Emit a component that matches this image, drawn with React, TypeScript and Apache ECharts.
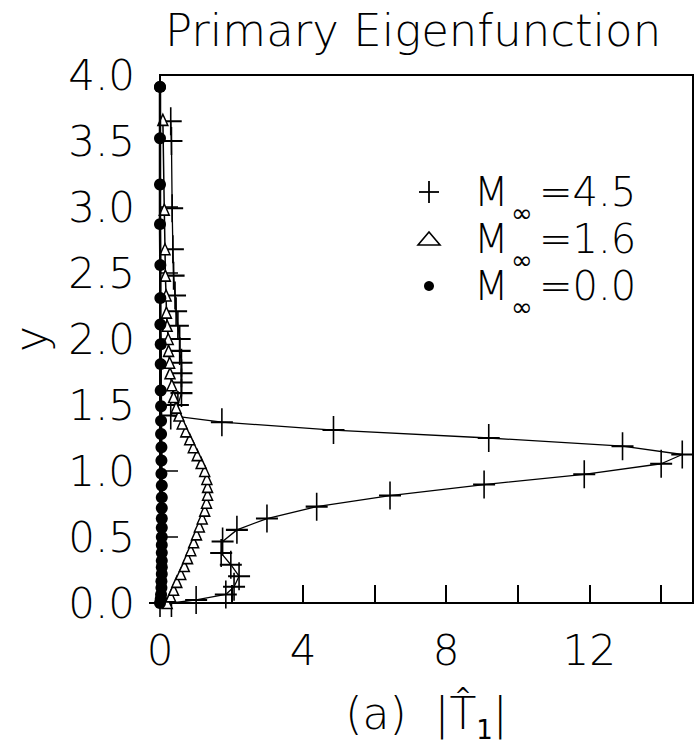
import React, { useEffect, useRef } from "react";
import * as echarts from "echarts";

// ---- data ----
// M∞ = 4.5  ("+" markers), points in order along the curve [|T1|, y]
const m45X = [0, 0.32, 1.01, 1.84, 2.07, 2.21, 1.98, 1.71, 1.75, 2.15, 2.99, 4.38, 6.43, 9.06, 11.86, 14.01, 14.6, 12.93, 9.19, 4.85, 1.73, 0.3, 0.5, 0.6, 0.6, 0.6, 0.6, 0.55, 0.55, 0.5, 0.45, 0.42, 0.38, 0.36, 0.34, 0.32, 0.3];
const m45Y = [0, 0.0, 0.023, 0.065, 0.123, 0.203, 0.29, 0.378, 0.466, 0.554, 0.64, 0.73, 0.814, 0.897, 0.975, 1.055, 1.125, 1.188, 1.25, 1.31, 1.37, 1.42, 1.5, 1.59, 1.67, 1.74, 1.82, 1.91, 2.0, 2.1, 2.21, 2.33, 2.48, 2.68, 2.99, 3.5, 3.65];

// M∞ = 1.6  (open triangles)
const m16X = [0.2, 0.3, 0.38, 0.47, 0.58, 0.68, 0.77, 0.86, 0.94, 1.02, 1.1, 1.18, 1.25, 1.3, 1.33, 1.33, 1.31, 1.25, 1.15, 1.04, 0.93, 0.83, 0.72, 0.62, 0.53, 0.45, 0.38, 0.33, 0.28, 0.27, 0.24, 0.23, 0.2, 0.18, 0.17, 0.15, 0.14, 0.12, 0.08];
const m16Y = [0.0, 0.05, 0.1, 0.16, 0.22, 0.28, 0.34, 0.4, 0.46, 0.52, 0.58, 0.64, 0.7, 0.76, 0.82, 0.88, 0.94, 1.0, 1.06, 1.12, 1.18, 1.24, 1.3, 1.36, 1.42, 1.48, 1.56, 1.65, 1.74, 1.82, 1.91, 2.0, 2.1, 2.2, 2.33, 2.48, 2.68, 2.98, 3.66];

// M∞ = 0.0  (filled dots)
const m00X = [0, 0.02, 0.03, 0.04, 0.04, 0.05, 0.05, 0.05, 0.05, 0.05, 0.05, 0.05, 0.05, 0.05, 0.05, 0.05, 0.04, 0.04, 0.04, 0.03, 0.03, 0.03, 0.02, 0.02, 0.02, 0.01, 0.01, 0.01, 0.0, 0.0, 0.0, 0.0, 0.0];
const m00Y = [0.0, 0.03, 0.065, 0.115, 0.165, 0.22, 0.27, 0.32, 0.38, 0.44, 0.5, 0.57, 0.64, 0.72, 0.8, 0.89, 0.98, 1.08, 1.18, 1.28, 1.38, 1.49, 1.61, 1.81, 1.96, 2.11, 2.31, 2.56, 2.87, 3.17, 3.52, 3.91, 3.91];

const seriesNames = ["M∞=4.5", "M∞=1.6", "M∞=0.0"];
const legendValues = ["4.5", "1.6", "0.0"];
const xTickLabels = ["0", "4", "8", "12"];
const titleText = "Primary Eigenfunction";

const FONT = "'DejaVu Sans', sans-serif";
const PLUS = "path://M0,14L22,14M11,0L11,28";

function pairs(xs: number[], ys: number[]) {
  return xs.map((x, i) => [x, ys[i]]);
}

export default function App() {
  const ref = useRef<HTMLDivElement>(null);
  useEffect(() => {
    if (!ref.current) return;
    const chart = echarts.init(ref.current, undefined, { renderer: "svg" });
    const rowY = [192, 239, 286];
    const legendGraphics: any[] = [];
    rowY.forEach((cy, i) => {
      if (i === 0) {
        legendGraphics.push({ type: "line", shape: { x1: 419, y1: cy, x2: 439, y2: cy }, style: { stroke: "#000", lineWidth: 1.8 } });
        legendGraphics.push({ type: "line", shape: { x1: 429, y1: cy - 11, x2: 429, y2: cy + 11 }, style: { stroke: "#000", lineWidth: 1.8 } });
      } else if (i === 1) {
        legendGraphics.push({ type: "polygon", shape: { points: [[418, cy + 6], [440, cy + 6], [429, cy - 7]] }, style: { fill: "#fff", stroke: "#000", lineWidth: 1.6 } });
      } else {
        legendGraphics.push({ type: "circle", shape: { cx: 429, cy, r: 5 }, style: { fill: "#000" } });
      }
      legendGraphics.push({ type: "text", x: 474, y: cy, style: { text: "M", font: `200 40px ${FONT}`, fill: "#000", verticalAlign: "middle", align: "left" } });
      legendGraphics.push({ type: "text", x: 511, y: cy + 21, style: { text: "∞", font: `normal 26px ${FONT}`, fill: "#000", verticalAlign: "middle", align: "left" } });
      legendGraphics.push({ type: "text", x: 539, y: cy, style: { text: "=" + legendValues[i], font: `200 40px ${FONT}`, fill: "#000", verticalAlign: "middle", align: "left" } });
    });

    chart.setOption({
      animation: false,
      backgroundColor: "#fff",
      title: {
        text: titleText,
        left: 160,
        top: 3,
        textStyle: { fontFamily: FONT, fontSize: 45, fontWeight: 200, color: "#000" },
      },
      grid: { left: 155, right: 3, top: 75, bottom: 141, show: true, borderColor: "#000", borderWidth: 2, backgroundColor: "transparent" },
      xAxis: {
        type: "value",
        min: 0,
        max: 14.9,
        interval: 2,
        name: "{a|(a)  |T̂}{sub|1}{a||}",
        nameLocation: "middle",
        nameGap: 80,
        nameTextStyle: {
          color: "#000",
          rich: {
            a: { fontFamily: FONT, fontSize: 44, fontWeight: 200, color: "#000" },
            sub: { fontFamily: FONT, fontSize: 26, fontWeight: "normal", color: "#000", padding: [34, 0, 0, 0] },
          },
        },
        axisLine: { show: true, lineStyle: { color: "#000", width: 2 } },
        axisTick: { show: true, inside: true, length: 18, lineStyle: { color: "#000", width: 2 } },
        splitLine: { show: false },
        axisLabel: {
          margin: 26,
          showMaxLabel: false,
          fontFamily: FONT,
          fontSize: 42,
          fontWeight: 200,
          color: "#000",
          formatter: (v: number) => (xTickLabels.indexOf(String(v)) >= 0 ? String(v) : ""),
        },
      },
      yAxis: {
        type: "value",
        min: 0,
        max: 4,
        interval: 0.5,
        name: "y",
        nameLocation: "middle",
        nameRotate: 90,
        nameGap: 108,
        nameTextStyle: { fontFamily: FONT, fontSize: 44, fontWeight: 200, color: "#000" },
        axisLine: { show: true, lineStyle: { color: "#000", width: 2 } },
        axisTick: { show: true, inside: true, length: 18, lineStyle: { color: "#000", width: 1.5 } },
        splitLine: { show: false },
        axisLabel: {
          margin: 25,
          fontFamily: FONT,
          fontSize: 42,
          fontWeight: 200,
          color: "#000",
          formatter: (v: number) => v.toFixed(1),
        },
      },
      series: [
        {
          name: seriesNames[0],
          type: "line",
          data: pairs(m45X, m45Y),
          clip: false,
          showAllSymbol: true,
          symbol: PLUS,
          symbolSize: [22, 28],
          lineStyle: { color: "#000", width: 1.3 },
          itemStyle: { color: "#000", borderColor: "#000", borderWidth: 1.8 },
          z: 2,
        },
        {
          name: seriesNames[1],
          type: "line",
          data: pairs(m16X, m16Y),
          clip: false,
          showAllSymbol: true,
          symbol: "triangle",
          symbolSize: [10, 11],
          lineStyle: { color: "#000", width: 1.5 },
          itemStyle: { color: "#fff", borderColor: "#000", borderWidth: 1.5 },
          z: 3,
        },
        {
          name: seriesNames[2],
          type: "line",
          data: pairs(m00X, m00Y),
          clip: false,
          showAllSymbol: true,
          symbol: "circle",
          symbolSize: 12,
          lineStyle: { color: "#000", width: 2.5 },
          itemStyle: { color: "#000", borderColor: "#000", borderWidth: 0 },
          z: 4,
        },
      ],
      graphic: legendGraphics,
    });
    return () => chart.dispose();
  }, []);
  return <div ref={ref} style={{ position: "fixed", left: 0, top: 0, width: 696, height: 748, background: "#fff" }} />;
}
